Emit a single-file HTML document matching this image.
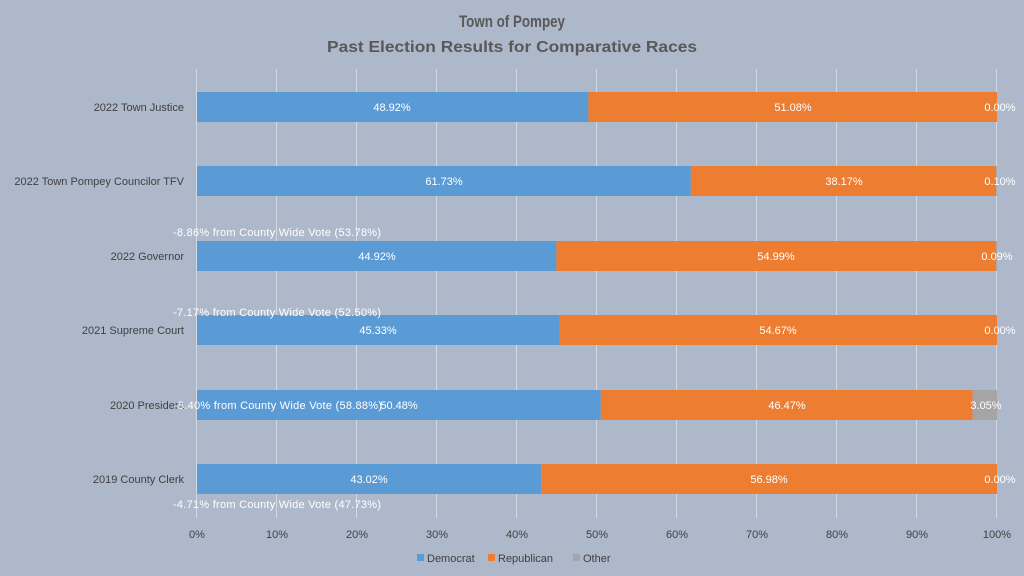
<!DOCTYPE html>
<html><head><meta charset="utf-8"><style>
html,body{margin:0;padding:0;background:#adb8ca;}
svg{display:block;font-family:"Liberation Sans",sans-serif;}
</style></head><body>
<svg width="1024" height="576" viewBox="0 0 1024 576">
<rect width="1024" height="576" fill="#adb8ca"/>
<text x="512" y="27" text-anchor="middle" font-size="17" font-weight="bold" fill="#595959" textLength="106" lengthAdjust="spacingAndGlyphs">Town of Pompey</text>
<text x="512" y="52" text-anchor="middle" font-size="16" font-weight="bold" fill="#595959" textLength="370" lengthAdjust="spacingAndGlyphs">Past Election Results for Comparative Races</text>
<g stroke="#d3d9e3" stroke-width="1">
<line x1="196.5" y1="69" x2="196.5" y2="518"/><line x1="276.5" y1="69" x2="276.5" y2="518"/><line x1="356.5" y1="69" x2="356.5" y2="518"/><line x1="436.5" y1="69" x2="436.5" y2="518"/><line x1="516.5" y1="69" x2="516.5" y2="518"/><line x1="596.5" y1="69" x2="596.5" y2="518"/><line x1="676.5" y1="69" x2="676.5" y2="518"/><line x1="756.5" y1="69" x2="756.5" y2="518"/><line x1="836.5" y1="69" x2="836.5" y2="518"/><line x1="916.5" y1="69" x2="916.5" y2="518"/><line x1="996.5" y1="69" x2="996.5" y2="518"/>
</g>
<g font-size="11" fill="#404040" text-anchor="middle">
<text x="197" y="538">0%</text><text x="277" y="538">10%</text><text x="357" y="538">20%</text><text x="437" y="538">30%</text><text x="517" y="538">40%</text><text x="597" y="538">50%</text><text x="677" y="538">60%</text><text x="757" y="538">70%</text><text x="837" y="538">80%</text><text x="917" y="538">90%</text><text x="997" y="538">100%</text>
</g>
<g font-size="11" fill="#404040" text-anchor="end">
<text x="184" y="111">2022 Town Justice</text>
<text x="184" y="185">2022 Town Pompey Councilor TFV</text>
<text x="184" y="260">2022 Governor</text>
<text x="184" y="334">2021 Supreme Court</text>
<text x="184" y="409">2020 President</text>
<text x="184" y="483">2019 County Clerk</text>
</g>
<g>
<rect x="197" y="92" width="391.4" height="30" fill="#5b9bd5"/><rect x="588.4" y="92" width="408.6" height="30" fill="#ed7d31"/>
<rect x="197" y="166" width="493.8" height="30" fill="#5b9bd5"/><rect x="690.8" y="166" width="305.4" height="30" fill="#ed7d31"/><rect x="996.2" y="166" width="0.8" height="30" fill="#a5a5a5"/>
<rect x="197" y="241" width="359.4" height="30" fill="#5b9bd5"/><rect x="556.4" y="241" width="439.9" height="30" fill="#ed7d31"/><rect x="996.3" y="241" width="0.7" height="30" fill="#a5a5a5"/>
<rect x="197" y="315" width="362.6" height="30" fill="#5b9bd5"/><rect x="559.6" y="315" width="437.4" height="30" fill="#ed7d31"/>
<rect x="197" y="390" width="403.8" height="30" fill="#5b9bd5"/><rect x="600.8" y="390" width="371.8" height="30" fill="#ed7d31"/><rect x="972.6" y="390" width="24.4" height="30" fill="#a5a5a5"/>
<rect x="197" y="464" width="344.2" height="30" fill="#5b9bd5"/><rect x="541.2" y="464" width="455.8" height="30" fill="#ed7d31"/>
</g>
<g font-size="11" fill="#ffffff" text-anchor="middle">
<text x="392" y="111">48.92%</text><text x="793" y="111">51.08%</text><text x="1000" y="111">0.00%</text>
<text x="444" y="185">61.73%</text><text x="844" y="185">38.17%</text><text x="1000" y="185">0.10%</text>
<text x="377" y="260">44.92%</text><text x="776" y="260">54.99%</text><text x="997" y="260">0.09%</text>
<text x="378" y="334">45.33%</text><text x="778" y="334">54.67%</text><text x="1000" y="334">0.00%</text>
<text x="399" y="409">50.48%</text><text x="787" y="409">46.47%</text><text x="986" y="409">3.05%</text>
<text x="369" y="483">43.02%</text><text x="769" y="483">56.98%</text><text x="1000" y="483">0.00%</text>
</g>
<g font-size="11" fill="#ffffff">
<text x="173" y="236" textLength="208" lengthAdjust="spacing">-8.86% from  County Wide Vote (53.78%)</text>
<text x="173" y="316" textLength="208" lengthAdjust="spacing">-7.17% from  County Wide Vote (52.50%)</text>
<text x="174" y="409" textLength="208" lengthAdjust="spacing">-8.40% from  County Wide Vote (58.88%)</text>
<text x="173" y="508" textLength="208" lengthAdjust="spacing">-4.71% from  County Wide Vote (47.73%)</text>
</g>
<g font-size="11" fill="#404040">
<rect x="417" y="554" width="7" height="7" fill="#5b9bd5"/><text x="427" y="562">Democrat</text>
<rect x="488" y="554" width="7" height="7" fill="#ed7d31"/><text x="498" y="562">Republican</text>
<rect x="573" y="554" width="7" height="7" fill="#a5a5a5"/><text x="583" y="562">Other</text>
</g>
</svg>
</body></html>
